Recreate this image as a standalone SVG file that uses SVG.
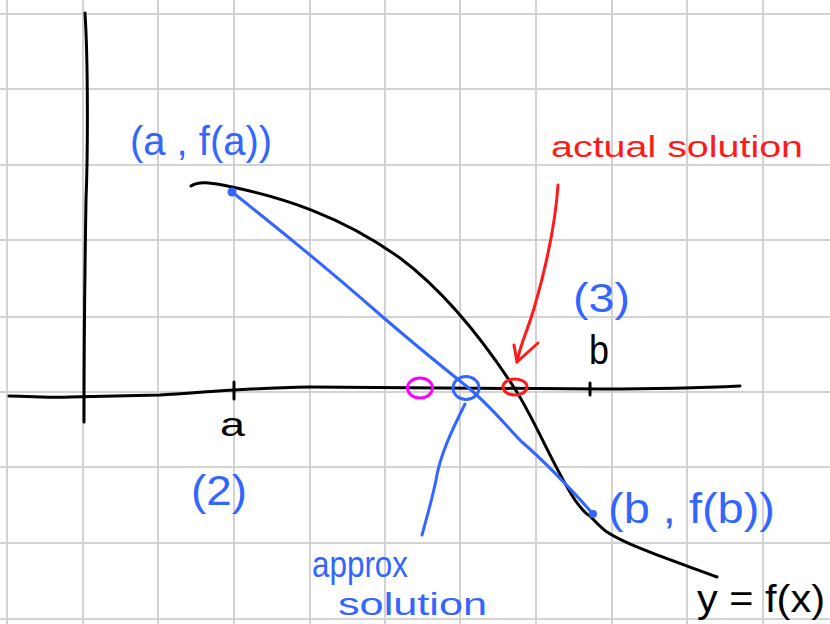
<svg xmlns="http://www.w3.org/2000/svg" width="830" height="624" viewBox="0 0 830 624">
  <style>
    .grid line { stroke: #d2d2d2; stroke-width: 2; }
    .ink { fill: none; stroke-linecap: round; stroke-linejoin: round; stroke-width: 3; }
    .k { stroke: #000; }
    .bl { stroke: #3366ff; }
    .rd { stroke: #ff1a1a; }
    .mg { stroke: #ff00ff; }
    text { font-family: "Liberation Sans", "DejaVu Sans", sans-serif; }
    .tb { fill: #3366ff; }
    .tr { fill: #ff1a1a; }
    .tk { fill: #000; }
  </style>
  <rect width="830" height="624" fill="#fff"/>
  <g id="grid" class="grid">
    <line x1="7" y1="0" x2="7" y2="624"/>
    <line x1="83" y1="0" x2="83" y2="624"/>
    <line x1="158" y1="0" x2="158" y2="624"/>
    <line x1="234" y1="0" x2="234" y2="624"/>
    <line x1="310" y1="0" x2="310" y2="624"/>
    <line x1="385" y1="0" x2="385" y2="624"/>
    <line x1="460" y1="0" x2="460" y2="624"/>
    <line x1="536" y1="0" x2="536" y2="624"/>
    <line x1="612" y1="0" x2="612" y2="624"/>
    <line x1="687" y1="0" x2="687" y2="624"/>
    <line x1="763" y1="0" x2="763" y2="624"/>
    <line x1="0" y1="14" x2="830" y2="14"/>
    <line x1="0" y1="89" x2="830" y2="89"/>
    <line x1="0" y1="165" x2="830" y2="165"/>
    <line x1="0" y1="240" x2="830" y2="240"/>
    <line x1="0" y1="317" x2="830" y2="317"/>
    <line x1="0" y1="392" x2="830" y2="392"/>
    <line x1="0" y1="467" x2="830" y2="467"/>
    <line x1="0" y1="543" x2="830" y2="543"/>
    <line x1="0" y1="619" x2="830" y2="619"/>
  </g>
  <g id="axes">
    <path class="ink k" d="M85,13 C88,60 88,150 86,200 C85,260 84,330 84,422"/>
    <path class="ink k" d="M9,396 C30,396 50,398 70,397 L160,395 C200,393 240,388 310,387 C400,388 500,389 600,389 C680,389 720,387 740,386"/>
    <path class="ink k" d="M234,382 L234,399"/>
    <path class="ink k" d="M590,383 L590,395"/>
  </g>
  <g id="curve">
    <path class="ink k" d="M191,186 C198,181 210,182 232,187 C280,197 340,215 400,258 C440,288 480,335 515,389 C535,420 555,470 575,500 C582,510 586,514 590,516 C596,522 600,527 607,532 C630,547 680,563 717,577"/>
  </g>
  <g id="secant">
    <path class="ink bl" d="M232,192 C270,222 320,262 377,312 C400,332 440,365 465,385 C490,405 505,425 522,442 C545,462 570,488 593,514"/>
    <circle cx="232" cy="192" r="4.5" fill="#3366ff"/>
    <circle cx="593" cy="514" r="4" fill="#3366ff"/>
  </g>
  <g id="markers">
    <ellipse class="ink mg" cx="420" cy="388" rx="12.5" ry="10"/>
    <ellipse class="ink bl" cx="466" cy="388" rx="13" ry="11.5"/>
    <ellipse class="ink rd" cx="515" cy="387" rx="12" ry="8"/>
  </g>
  <g id="connectors">
    <path class="ink rd" d="M558,185 C555,230 545,270 535,305 C528,330 520,345 517,362"/>
    <path class="ink rd" d="M514,345 L517,362 L538,343"/>
    <path class="ink bl" d="M465,404 C452,430 440,455 436,480 C432,500 426,520 422,535"/>
  </g>
  <g id="labels">
    <text class="tb" x="130" y="155" font-size="40" textLength="142" lengthAdjust="spacingAndGlyphs">(a , f(a))</text>
    <text class="tr" x="551" y="157" font-size="30" textLength="252" lengthAdjust="spacingAndGlyphs">actual solution</text>
    <text class="tb" x="573" y="312" font-size="40" textLength="57" lengthAdjust="spacingAndGlyphs">(3)</text>
    <text class="tk" x="589" y="364" font-size="40" textLength="20" lengthAdjust="spacingAndGlyphs">b</text>
    <text class="tk" x="220" y="436" font-size="34" textLength="25" lengthAdjust="spacingAndGlyphs">a</text>
    <text class="tb" x="191" y="505" font-size="42" textLength="56" lengthAdjust="spacingAndGlyphs">(2)</text>
    <text class="tb" x="608" y="523" font-size="42" textLength="167" lengthAdjust="spacingAndGlyphs">(b , f(b))</text>
    <text class="tb" x="312" y="577" font-size="36" textLength="96" lengthAdjust="spacingAndGlyphs">approx</text>
    <text class="tb" x="338" y="615" font-size="32" textLength="149" lengthAdjust="spacingAndGlyphs">solution</text>
    <text class="tk" x="697" y="612" font-size="38" textLength="128" lengthAdjust="spacingAndGlyphs">y = f(x)</text>
  </g>
</svg>
